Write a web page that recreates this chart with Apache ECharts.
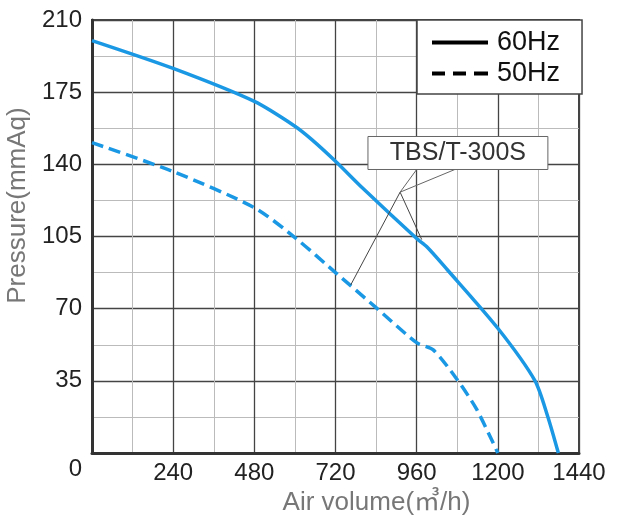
<!DOCTYPE html>
<html>
<head>
<meta charset="utf-8">
<script src="https://cdn.jsdelivr.net/npm/echarts@6/dist/echarts.min.js"></script>
<style>
  html, body { margin: 0; padding: 0; background: #fff; }
  #container { width: 617px; height: 525px; }
</style>
</head>
<body>
<div id="container"></div>
<script>
// 风量 (m3/h) 和 静压 (mmAq)
var seriesNames = ['60Hz', '50Hz'];
var flow60 = [0, 240, 480, 600, 650, 720, 800, 960, 990, 1050, 1200, 1310, 1348, 1379];
var press60 = [200, 186.5, 170.5, 158.5, 152, 141.5, 128.5, 104, 100, 89, 60.5, 35, 17.5, 0];
var flow50 = [0, 240, 480, 600, 720, 840, 960, 1009, 1078, 1138, 1200];
var press50 = [150.5, 136.5, 119, 104.5, 87.5, 70.5, 53.5, 50, 36, 21, 0];
var xTicks = [0, 1440, 240];   // min, max, interval
var yTicks = [0, 210, 35];
var modelName = 'TBS/T-300S';

function pairs(xs, ys) {
    return xs.map(function (x, i) { return [x, ys[i]]; });
}

var dom = document.getElementById('container');
var myChart = echarts.init(dom, null, { renderer: 'canvas' });

var numFont = "'Liberation Sans', Arial, sans-serif";
var nameFont = "'Liberation Sans', Arial, 'Noto Sans CJK SC', sans-serif";
var blue = '#1b98e4';

// 图例图标：实线 / 虚线
var solidIcon = 'path://M0,0H56V4H0Z';
var dashIcon = 'path://M0,0H13V4H0Z M21,0H34V4H21Z M42,0H56V4H42Z';

var option = {
    animation: false,
    backgroundColor: '#fff',
    grid: {
        left: 92, top: 20, right: 38, bottom: 72,
        outerBoundsMode: 'none',
        show: true, borderColor: '#444', borderWidth: 2
    },
    legend: {
        orient: 'vertical',
        left: 417, top: 20,
        padding: [9, 22, 7, 15],
        itemGap: 4,
        itemWidth: 56, itemHeight: 4,
        backgroundColor: '#fff',
        borderColor: '#444', borderWidth: 1.5,
        textStyle: { fontSize: 27, color: '#111', fontFamily: nameFont, padding: [0, 0, 0, 4] },
        data: [
            { name: seriesNames[0], icon: solidIcon, itemStyle: { color: '#000' } },
            { name: seriesNames[1], icon: dashIcon, itemStyle: { color: '#000' } }
        ]
    },
    xAxis: {
        type: 'value',
        min: xTicks[0], max: xTicks[1], interval: xTicks[2],
        name: 'Air volume(㎥/h)',
        nameLocation: 'middle',
        nameGap: 30,
        nameTextStyle: { fontSize: 26, color: '#777', fontFamily: nameFont, padding: [0, 0, 0, 82] },
        axisLine: { show: true, lineStyle: { color: '#333', width: 3 } },
        axisTick: { show: false },
        axisLabel: {
            margin: 8, fontSize: 24, color: '#222', fontFamily: numFont,
            formatter: function (v) { return v === 0 ? '' : String(v); }
        },
        splitLine: { show: true, lineStyle: { color: '#444', width: 1.3 } },
        minorTick: { show: true, splitNumber: 2, length: 0 },
        minorSplitLine: { show: true, lineStyle: { color: '#bbb', width: 1 } }
    },
    yAxis: {
        type: 'value',
        min: yTicks[0], max: yTicks[1], interval: yTicks[2],
        name: 'Pressure(mmAq)',
        nameLocation: 'middle',
        nameGap: 57,
        nameTextStyle: { fontSize: 26, color: '#777', fontFamily: nameFont, padding: [0, 0, 0, 62] },
        axisLine: { show: true, lineStyle: { color: '#333', width: 3 } },
        axisTick: { show: false },
        axisLabel: {
            margin: 10, fontSize: 24, color: '#222', fontFamily: numFont,
            formatter: function (v) { return v === 0 ? '{z|0}' : String(v); },
            rich: { z: { padding: [32, 0, 0, 0], fontSize: 24, color: '#222', fontFamily: numFont } }
        },
        splitLine: { show: true, lineStyle: { color: '#444', width: 1.3 } },
        minorTick: { show: true, splitNumber: 2, length: 0 },
        minorSplitLine: { show: true, lineStyle: { color: '#bbb', width: 1 } }
    },
    series: [
        {
            name: seriesNames[0],
            type: 'line',
            data: pairs(flow60, press60),
            symbol: 'none',
            smooth: 0.25,
            lineStyle: { color: blue, width: 3.5 },
            itemStyle: { color: blue },
            z: 3
        },
        {
            name: seriesNames[1],
            type: 'line',
            data: pairs(flow50, press50),
            symbol: 'none',
            smooth: 0.25,
            lineStyle: { color: blue, width: 3.5, type: [12, 6] },
            itemStyle: { color: blue },
            z: 3
        }
    ]
};

myChart.setOption(option);

// 型号标注：方框 + 引线，位置用数据坐标换算
function px(pt) { return myChart.convertToPixel({ gridIndex: 0 }, pt); }
var boxTL = px([816, 153.5]);
var boxBR = px([1348, 137.5]);
var apex = px([911, 126.5]);
var onLine60 = px([975, 103.5]);
var onLine50 = px([765, 81.5]);
var stemA = px([960, 137.5]);
var stemB = px([1073, 137.5]);

myChart.setOption({
    graphic: [
        {
            type: 'polyline', z: 10, silent: true,
            shape: { points: [onLine50, apex, onLine60] },
            style: { stroke: '#444', lineWidth: 1, fill: null }
        },
        {
            type: 'polyline', z: 10, silent: true,
            shape: { points: [stemA, apex, stemB] },
            style: { stroke: '#666', lineWidth: 1, fill: null }
        },
        {
            type: 'rect', z: 11, silent: true,
            shape: { x: boxTL[0], y: boxTL[1], width: boxBR[0] - boxTL[0], height: boxBR[1] - boxTL[1] },
            style: { fill: '#fff', stroke: '#666', lineWidth: 1 }
        },
        {
            type: 'text', z: 12, silent: true,
            x: (boxTL[0] + boxBR[0]) / 2, y: (boxTL[1] + boxBR[1]) / 2,
            style: {
                text: modelName, fill: '#333', fontSize: 25, fontFamily: nameFont,
                align: 'center', verticalAlign: 'middle'
            }
        }
    ]
});

window.addEventListener('resize', myChart.resize);
</script>
</body>
</html>
